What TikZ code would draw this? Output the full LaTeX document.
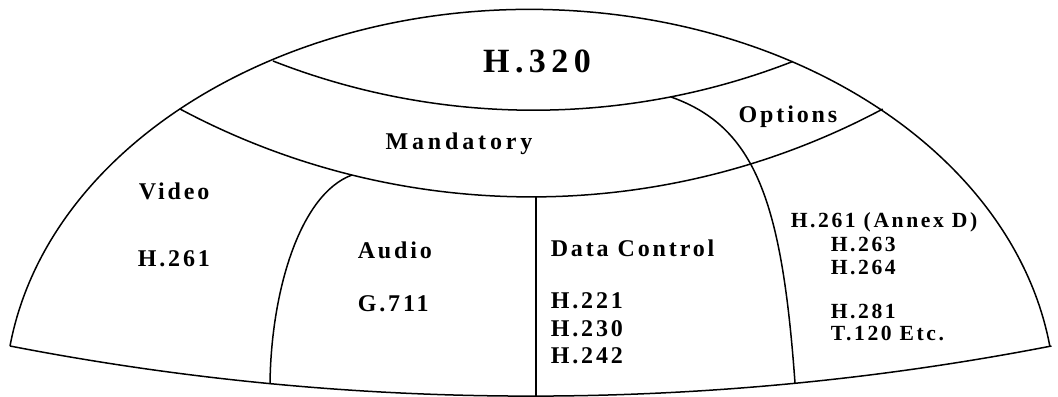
\documentclass[tikz,border=0pt]{standalone}
\usepackage{fontspec}
\newfontfamily\capfont{Liberation Serif Bold}[LetterSpace=12]
\newfontfamily\headfont{Liberation Serif Bold}[LetterSpace=16]
\usepackage{tikz}

\begin{document}
\begin{tikzpicture}[x=0.5pt,y=0.5pt,line width=0.75pt,
  lbl/.style={inner sep=0pt,anchor=base west,font=\capfont\fontsize{12}{14}\selectfont},
  sub/.style={lbl,font=\capfont\fontsize{10.8}{12}\selectfont},
  head/.style={lbl,anchor=base}]
\useasboundingbox (0,0) rectangle (1058,396);
% corners and joints
\coordinate (lc) at (10,50);
\coordinate (m1) at (180,287);
\coordinate (h1) at (273,335);
\coordinate (o1) at (671,299);
\coordinate (a1) at (352,221);
\coordinate (a2) at (270,12);
\coordinate (o2) at (795,13);
\coordinate (d1) at (536,199);
\coordinate (d2) at (536,0);
% outline
\draw (lc) arc[start angle=172,end angle=8,x radius=525,y radius=391];
\draw (lc) arc[start angle=259,end angle=281,radius=2729];
% rings
\draw (h1) arc[start angle=248.6,end angle=291.3,radius=714];
\draw (m1) arc[start angle=241.9,end angle=298.1,radius=746];
% sectors
\draw (a1) .. controls (300,202) and (271,105) .. (a2);
\draw (o1) .. controls (756,269) and (782,193) .. (o2);
\draw (d1) -- (d2);
% labels
\node[head,font=\headfont\fontsize{17}{19}\selectfont] (h320) at (537,323) {H.320};
\node[head,font=\headfont\fontsize{12}{14}\selectfont] (mand) at (459,246) {Mandatory};
\node[head] (opts) at (788,273) {Options};
\node[lbl] (vid) at (138,196) {Video};
\node[lbl] (vidc) at (137,129) {H.261};
\node[lbl] (aud) at (357,137) {Audio};
\node[lbl] (audc) at (357,85) {G.711};
\node[lbl] (dat) at (550,140) {Data Control};
\node[lbl] (dat1) at (550,88) {H.221};
\node[lbl] (dat2) at (550,60) {H.230};
\node[lbl] (dat3) at (550,33) {H.242};
\node[sub] (opt0) at (790,168) {H.261 (Annex D)};
\node[sub] (opt1) at (830,144) {H.263};
\node[sub] (opt2) at (830,121) {H.264};
\node[sub] (opt3) at (830,78) {H.281};
\node[sub] (opt4) at (830,56) {T.120 Etc.};
\end{tikzpicture}
\end{document}
